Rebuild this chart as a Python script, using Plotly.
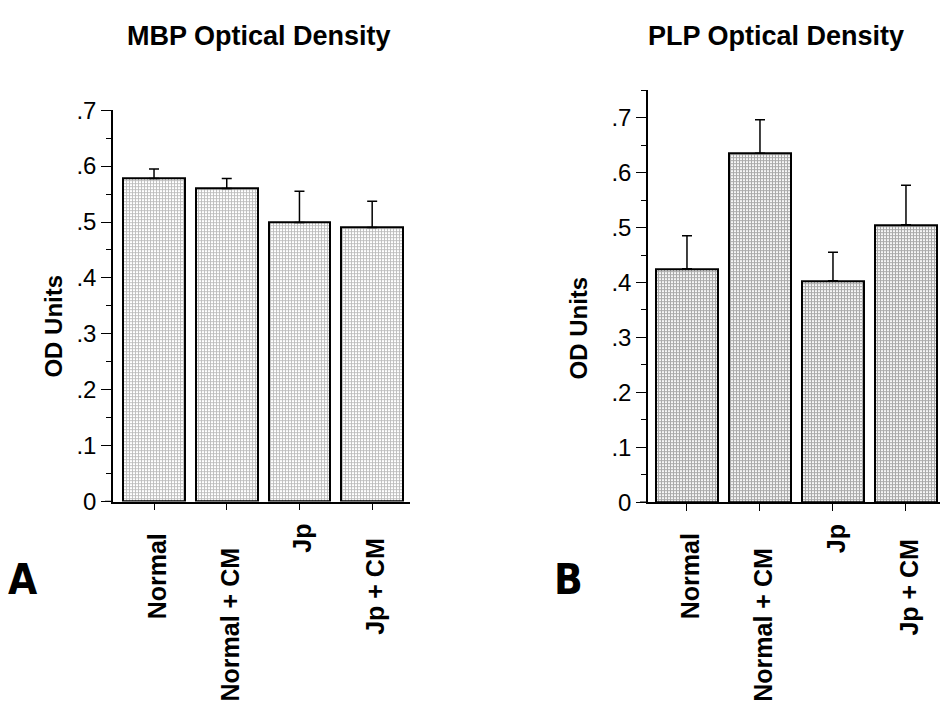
import plotly.graph_objects as go

categories = ["Normal", "Normal + CM", "Jp", "Jp + CM"]
mbp_values = [0.578, 0.560, 0.499, 0.490]
mbp_errors = [0.017, 0.018, 0.056, 0.047]
plp_values = [0.425, 0.635, 0.403, 0.505]
plp_errors = [0.060, 0.061, 0.052, 0.072]
ytick_vals = [0, 0.1, 0.2, 0.3, 0.4, 0.5, 0.6, 0.7]
ytick_text = ["0", ".1", ".2", ".3", ".4", ".5", ".6", ".7"]
titles = ["MBP Optical Density", "PLP Optical Density"]
panel_letters = ["A", "B"]
y_title = "OD Units"

W, H = 940, 705
FONT = "Liberation Sans, Arial, Helvetica, sans-serif"

fig = go.Figure()
xs = list(range(len(categories)))

def bar(x_vals, vals, errs, xa, ya, fg, sol):
    return go.Bar(
        x=x_vals, y=vals, xaxis=xa, yaxis=ya, width=0.85,
        marker=dict(color="white", line=dict(color="black", width=2),
                    pattern=dict(shape="+", size=3, solidity=sol,
                                 fgcolor=fg, bgcolor="white")),
        error_y=dict(type="data", symmetric=False, array=errs,
                     arrayminus=[0] * len(errs), color="black",
                     thickness=1.5, width=5),
        showlegend=False, hoverinfo="skip")

fig.add_trace(bar(xs, mbp_values, mbp_errors, "x", "y", "#777777", 0.5))
fig.add_trace(bar(xs, plp_values, plp_errors, "x2", "y2", "#555555", 0.65))

def px_x(p):
    return p / W

def px_y(p):
    return 1 - p / H

axis_common = dict(showline=True, linecolor="black", linewidth=1.5,
                   showgrid=False, zeroline=False, ticks="outside",
                   tickcolor="black", tickwidth=1.2)

yaxis_common = dict(tickvals=ytick_vals, ticktext=ytick_text, ticklen=10,
                    tickfont=dict(size=24, family=FONT),
                    minor=dict(tickmode="linear", tick0=0, dtick=0.05,
                               ticklen=5, ticks="outside", tickcolor="black"))

fig.update_layout(
    width=W, height=H, margin=dict(l=0, r=0, t=0, b=0),
    paper_bgcolor="white", plot_bgcolor="white", bargap=0,
    font=dict(family=FONT, color="black"),
    xaxis=dict(domain=[px_x(113), px_x(410)], range=[-0.564, 3.52],
               tickvals=xs, ticklen=7, showticklabels=False,
               anchor="y", **axis_common),
    yaxis=dict(domain=[px_y(507), px_y(100)], range=[0, 0.7],
               anchor="x", **yaxis_common, **axis_common),
    xaxis2=dict(domain=[px_x(648), 1.0], range=[-0.534, 3.466],
                tickvals=xs, ticklen=7, showticklabels=False,
                anchor="y2", **axis_common),
    yaxis2=dict(domain=[px_y(507.7), px_y(79.2)], range=[0, 0.75],
                anchor="x2", **yaxis_common, **axis_common),
)

# baseline stubs extending left of the y axes
fig.add_shape(type="line", xref="paper", yref="y", x0=px_x(105), x1=px_x(113),
              y0=0, y1=0, line=dict(color="black", width=1.5))
fig.add_shape(type="line", xref="paper", yref="y2", x0=px_x(640), x1=px_x(648),
              y0=0, y1=0, line=dict(color="black", width=1.5))

ann = []
# titles
for t, cx in zip(titles, [259, 776]):
    ann.append(dict(text="<b>%s</b>" % t, x=px_x(cx), y=px_y(23),
                    xref="paper", yref="paper", showarrow=False,
                    xanchor="center", yanchor="middle",
                    font=dict(size=27, family=FONT)))
# y titles
for cx, cy in zip([54, 578], [325, 327]):
    ann.append(dict(text="<b>%s</b>" % y_title, x=px_x(cx), y=px_y(cy),
                    xref="paper", yref="paper", showarrow=False,
                    textangle=-90, xanchor="center", yanchor="middle",
                    font=dict(size=24, family=FONT)))
# category labels (staggered)
label_tops = [538, 553, 528, 543]
for xa in ["x", "x2"]:
    for i, c in enumerate(categories):
        ann.append(dict(text="<b>%s</b>" % c, x=i + 0.04, y=px_y(label_tops[i]),
                        xref=xa, yref="paper", showarrow=False,
                        textangle=-90, xanchor="center", yanchor="top",
                        font=dict(size=25, family=FONT)))
# panel letters
for L, cx in zip(panel_letters, [23, 568]):
    ann.append(dict(text="<b>%s</b>" % L, x=px_x(cx), y=px_y(588),
                    xref="paper", yref="paper", showarrow=False,
                    xanchor="center", yanchor="middle",
                    font=dict(size=42, family="Liberation Sans Narrow, DejaVu Sans Condensed, sans-serif")))
fig.update_layout(annotations=ann)

fig.write_html("out.html", config={"displayModeBar": False},
               post_script="document.body.style.margin='0';document.body.style.overflow='hidden';")
